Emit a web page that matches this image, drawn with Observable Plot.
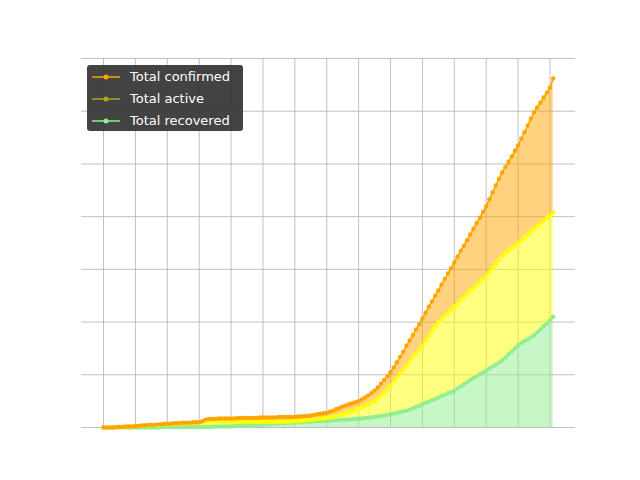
<!DOCTYPE html>
<html>
<head>
<meta charset="utf-8">
<script src="https://cdn.jsdelivr.net/npm/d3@7"></script>
<script src="https://cdn.jsdelivr.net/npm/@observablehq/plot@0.6"></script>
<style>
  body { margin: 0; background: #fff; }
  #chart { position: relative; width: 640px; height: 480px; }
  .legend { position: absolute; left: 87px; top: 65px; width: 156px; height: 66px;
    background: rgba(51,51,51,0.92); border-radius: 3px; font: 13px "DejaVu Sans", sans-serif; color: #fff; }
  .legend div { display: flex; align-items: center; height: 21px; margin-top: 1px; padding-left: 5px; }
  .legend svg { margin-right: 10px; }
</style>
</head>
<body>
<div id="chart"></div>
<script>
const confirmed = [
  0,0,0,0,0.01,0.01,0.01,0.02,0.02,0.02,
  0.03,0.03,0.04,0.04,0.05,0.05,0.05,0.06,0.06,0.07,
  0.07,0.07,0.08,0.08,0.08,0.09,0.09,0.09,0.1,0.1,
  0.1,0.12,0.15,0.16,0.16,0.16,0.17,0.17,0.17,0.17,
  0.17,0.17,0.18,0.18,0.18,0.18,0.18,0.18,0.18,0.19,
  0.19,0.19,0.19,0.19,0.19,0.2,0.2,0.2,0.2,0.2,
  0.2,0.21,0.21,0.22,0.22,0.23,0.24,0.25,0.26,0.27,
  0.28,0.3,0.32,0.35,0.37,0.4,0.42,0.44,0.46,0.48,
  0.5,0.53,0.57,0.61,0.65,0.7,0.76,0.83,0.9,0.97,
  1.05,1.14,1.24,1.34,1.44,1.55,1.65,1.75,1.86,1.96,
  2.07,2.18,2.29,2.39,2.5,2.6,2.71,2.82,2.92,3.02,
  3.13,3.24,3.35,3.45,3.55,3.66,3.77,3.88,3.98,4.09,
  4.2,4.33,4.46,4.59,4.72,4.84,4.94,5.04,5.14,5.25,
  5.35,5.48,5.6,5.73,5.86,5.98,6.07,6.16,6.26,6.35,
  6.45,6.62];
const active = [
  0,0,0,0,0.01,0.01,0.01,0.02,0.02,0.02,
  0.03,0.03,0.04,0.04,0.04,0.05,0.05,0.05,0.06,0.06,
  0.06,0.07,0.07,0.07,0.07,0.08,0.08,0.08,0.08,0.09,
  0.09,0.1,0.12,0.12,0.12,0.12,0.12,0.12,0.12,0.12,
  0.12,0.11,0.11,0.11,0.11,0.11,0.11,0.11,0.11,0.11,
  0.11,0.11,0.11,0.11,0.11,0.11,0.11,0.11,0.11,0.12,
  0.12,0.12,0.13,0.13,0.14,0.14,0.15,0.16,0.16,0.17,
  0.18,0.19,0.2,0.22,0.23,0.25,0.27,0.29,0.31,0.33,
  0.36,0.38,0.41,0.44,0.47,0.5,0.55,0.61,0.67,0.73,
  0.8,0.88,0.95,1.03,1.1,1.18,1.26,1.34,1.41,1.49,
  1.56,1.65,1.74,1.83,1.92,2.0,2.06,2.12,2.18,2.24,
  2.3,2.36,2.42,2.48,2.54,2.6,2.65,2.71,2.77,2.82,
  2.88,2.96,3.03,3.11,3.18,3.26,3.31,3.36,3.4,3.45,
  3.5,3.55,3.61,3.66,3.72,3.77,3.82,3.87,3.92,3.97,
  4.02,4.08];
const recovered = [
  0,0,0,0,0,0,0,0,0,0,
  0,0,0,0,0,0,0,0,0.01,0.01,
  0.01,0.01,0.01,0.01,0.01,0.01,0.01,0.01,0.01,0.01,
  0.01,0.01,0.01,0.01,0.01,0.02,0.02,0.02,0.02,0.02,
  0.02,0.03,0.03,0.03,0.04,0.04,0.04,0.05,0.05,0.05,
  0.06,0.06,0.06,0.07,0.07,0.08,0.08,0.08,0.09,0.09,
  0.1,0.1,0.1,0.11,0.11,0.11,0.12,0.12,0.12,0.13,
  0.13,0.13,0.14,0.14,0.14,0.15,0.15,0.15,0.16,0.16,
  0.17,0.17,0.18,0.19,0.19,0.2,0.21,0.22,0.23,0.24,
  0.25,0.26,0.28,0.29,0.31,0.32,0.34,0.36,0.39,0.41,
  0.44,0.47,0.49,0.52,0.54,0.57,0.6,0.62,0.65,0.67,
  0.7,0.74,0.78,0.82,0.86,0.9,0.94,0.97,1.01,1.04,
  1.08,1.12,1.16,1.19,1.23,1.27,1.33,1.39,1.44,1.5,
  1.56,1.6,1.64,1.67,1.71,1.75,1.81,1.86,1.92,1.97,
  2.03,2.1];

const rows = confirmed.map((c, i) => ({day: i, confirmed: c, active: active[i], recovered: recovered[i]}));

const chart = Plot.plot({
  width: 640, height: 480,
  marginLeft: 81, marginRight: 65, marginTop: 58, marginBottom: 53,
  x: {domain: [-6.9, 148], ticks: d3.range(0, 141, 10), axis: null},
  y: {domain: [0, 7], ticks: d3.range(0, 8), axis: null},
  marks: [
    Plot.gridX(d3.range(0, 141, 10), {stroke: "#b0b0b0", strokeOpacity: 1, strokeWidth: 0.8}),
    Plot.gridY(d3.range(0, 8), {stroke: "#b0b0b0", strokeOpacity: 1, strokeWidth: 0.8}),
    Plot.areaY(rows, {x: "day", y1: "active", y2: "confirmed", fill: "#ffa500", fillOpacity: 0.5}),
    Plot.areaY(rows, {x: "day", y1: "recovered", y2: "active", fill: "#ffff00", fillOpacity: 0.5}),
    Plot.areaY(rows, {x: "day", y1: 0, y2: "recovered", fill: "#90ee90", fillOpacity: 0.5}),
    Plot.line(rows, {x: "day", y: "recovered", stroke: "#90ee90", strokeWidth: 1.5}),
    Plot.dot(rows, {x: "day", y: "recovered", r: 2.2, fill: "#90ee90"}),
    Plot.line(rows, {x: "day", y: "active", stroke: "#ffff00", strokeWidth: 1.5}),
    Plot.dot(rows, {x: "day", y: "active", r: 2.2, fill: "#ffff00"}),
    Plot.line(rows, {x: "day", y: "confirmed", stroke: "#ffa500", strokeWidth: 1.5}),
    Plot.dot(rows, {x: "day", y: "confirmed", r: 2.2, fill: "#ffa500"})
  ]
});
d3.select("#chart").append(() => chart);

const legendItems = [["Total confirmed", "#ffa500"], ["Total active", "#a8a820"], ["Total recovered", "#90ee90"]];
const lg = d3.select("#chart").append("div").attr("class", "legend");
legendItems.forEach(([label, color]) => {
  const row = lg.append("div");
  const s = row.append("svg").attr("width", 28).attr("height", 10);
  s.append("line").attr("x1", 0).attr("x2", 28).attr("y1", 5).attr("y2", 5).attr("stroke", color).attr("stroke-width", 1.5);
  s.append("circle").attr("cx", 14).attr("cy", 5).attr("r", 2.5).attr("fill", color);
  row.append("span").text(label);
});
</script>
</body>
</html>
